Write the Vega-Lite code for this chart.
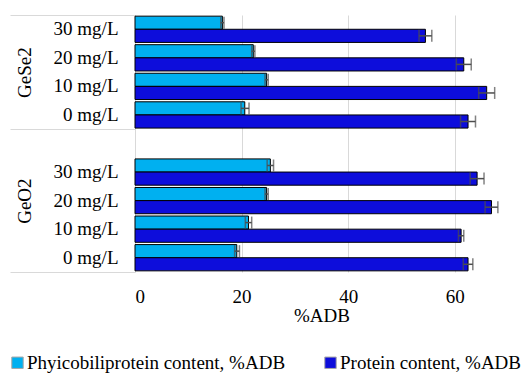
{
  "$schema": "https://vega.github.io/schema/vega-lite/v6.json",
  "width": 373,
  "height": 257,
  "autosize": {"type": "none"},
  "padding": {"left": 135, "top": 15, "right": 22, "bottom": 102},
  "background": "white",
  "config": {
    "view": {"stroke": null},
    "font": "Liberation Serif",
    "axis": {"labelFont": "Liberation Serif", "titleFont": "Liberation Serif", "labelColor": "#000", "titleColor": "#000"},
    "legend": {"labelFont": "Liberation Serif", "titleFont": "Liberation Serif"}
  },
  "datasets": {
    "bars": [
      {"key": "GeSe2|30 mg/L", "series": "Phyicobiliprotein content, %ADB", "value": 16.4, "lo": 16.1, "hi": 16.7},
      {"key": "GeSe2|30 mg/L", "series": "Protein content, %ADB", "value": 54.5, "lo": 53.3, "hi": 55.7},
      {"key": "GeSe2|20 mg/L", "series": "Phyicobiliprotein content, %ADB", "value": 22.2, "lo": 21.9, "hi": 22.5},
      {"key": "GeSe2|20 mg/L", "series": "Protein content, %ADB", "value": 61.7, "lo": 60.3, "hi": 63.1},
      {"key": "GeSe2|10 mg/L", "series": "Phyicobiliprotein content, %ADB", "value": 24.7, "lo": 24.4, "hi": 25.0},
      {"key": "GeSe2|10 mg/L", "series": "Protein content, %ADB", "value": 66.0, "lo": 64.5, "hi": 67.5},
      {"key": "GeSe2|0 mg/L", "series": "Phyicobiliprotein content, %ADB", "value": 20.6, "lo": 19.9, "hi": 21.4},
      {"key": "GeSe2|0 mg/L", "series": "Protein content, %ADB", "value": 62.5, "lo": 61.1, "hi": 63.9},
      {"key": "GeO2|30 mg/L", "series": "Phyicobiliprotein content, %ADB", "value": 25.4, "lo": 24.8, "hi": 26.0},
      {"key": "GeO2|30 mg/L", "series": "Protein content, %ADB", "value": 64.2, "lo": 62.9, "hi": 65.5},
      {"key": "GeO2|20 mg/L", "series": "Phyicobiliprotein content, %ADB", "value": 24.7, "lo": 24.4, "hi": 25.0},
      {"key": "GeO2|20 mg/L", "series": "Protein content, %ADB", "value": 66.9, "lo": 65.7, "hi": 68.1},
      {"key": "GeO2|10 mg/L", "series": "Phyicobiliprotein content, %ADB", "value": 21.3, "lo": 20.7, "hi": 21.9},
      {"key": "GeO2|10 mg/L", "series": "Protein content, %ADB", "value": 61.2, "lo": 60.7, "hi": 61.7},
      {"key": "GeO2|0 mg/L", "series": "Phyicobiliprotein content, %ADB", "value": 19.1, "lo": 18.7, "hi": 19.6},
      {"key": "GeO2|0 mg/L", "series": "Protein content, %ADB", "value": 62.5, "lo": 61.6, "hi": 63.4}
    ],
    "seps": [{"b": 0}, {"b": 4}, {"b": 9}],
    "groups": [{"g": "GeSe2", "m": 2}, {"g": "GeO2", "m": 6.5}]
  },
  "layer": [
    {
      "data": {"name": "bars"},
      "layer": [
        {
          "mark": {"type": "bar", "stroke": "#000", "strokeWidth": 1},
          "encoding": {
            "y": {
              "field": "key", "type": "nominal",
              "scale": {"domain": ["GeSe2|30 mg/L", "GeSe2|20 mg/L", "GeSe2|10 mg/L", "GeSe2|0 mg/L", "GeO2|", "GeO2|30 mg/L", "GeO2|20 mg/L", "GeO2|10 mg/L", "GeO2|0 mg/L"], "paddingInner": 0.08, "paddingOuter": 0.04},
              "axis": {"orient": "left", "labelExpr": "split(datum.value, '|')[1]", "ticks": false, "domain": false, "grid": false, "labelPadding": 17, "labelFontSize": 19, "title": null}
            },
            "yOffset": {"field": "series", "type": "nominal", "scale": {"domain": ["Phyicobiliprotein content, %ADB", "Protein content, %ADB"], "paddingInner": 0, "paddingOuter": 0}},
            "x": {
              "field": "value", "type": "quantitative",
              "scale": {"domain": [0, 70], "nice": false},
              "axis": {"values": [0, 20, 40, 60], "grid": true, "gridColor": "#d9d9d9", "domain": false, "ticks": false, "labelPadding": 15, "labelFontSize": 19, "labelFont": "Liberation Serif", "title": "%ADB", "titleFont": "Liberation Serif", "titleFontSize": 19, "titleFontWeight": "normal", "titlePadding": 0}
            },
            "color": {
              "field": "series", "type": "nominal",
              "scale": {"domain": ["Phyicobiliprotein content, %ADB", "Protein content, %ADB"], "range": ["#00B0F0", "#0D0DDB"]},
              "legend": {"orient": "none", "legendX": -127, "legendY": 338, "direction": "horizontal", "columns": 2, "columnPadding": 35, "title": null, "labelFontSize": 19, "labelFont": "Liberation Serif", "labelColor": "#000", "symbolType": "square", "symbolSize": 130, "symbolStrokeColor": "#a6a6a6", "symbolStrokeWidth": 1, "labelOffset": 0, "padding": 0, "labelLimit": 400}
            }
          }
        },
        {
          "mark": {"type": "rule", "color": "#4d4d4d", "strokeWidth": 1.5},
          "encoding": {
            "y": {"field": "key", "type": "nominal"},
            "yOffset": {"field": "series", "type": "nominal"},
            "x": {"field": "lo", "type": "quantitative"},
            "x2": {"field": "hi"}
          }
        },
        {
          "mark": {"type": "tick", "color": "#4d4d4d", "size": 12, "thickness": 1.5},
          "encoding": {
            "y": {"field": "key", "type": "nominal"},
            "yOffset": {"field": "series", "type": "nominal"},
            "x": {"field": "lo", "type": "quantitative"}
          }
        },
        {
          "mark": {"type": "tick", "color": "#4d4d4d", "size": 12, "thickness": 1.5},
          "encoding": {
            "y": {"field": "key", "type": "nominal"},
            "yOffset": {"field": "series", "type": "nominal"},
            "x": {"field": "hi", "type": "quantitative"}
          }
        }
      ]
    },
    {
      "data": {"name": "seps"},
      "mark": {"type": "point", "opacity": 0},
      "encoding": {
        "y": {
          "field": "b", "type": "quantitative",
          "scale": {"domain": [0, 9], "reverse": true, "nice": false, "zero": false},
          "axis": {"orient": "left", "values": [0, 4, 9], "tickSize": 125, "tickColor": "#d9d9d9", "labels": false, "domain": false, "grid": false, "title": null, "offset": 0}
        }
      }
    },
    {
      "data": {"name": "groups"},
      "mark": {"type": "point", "opacity": 0},
      "encoding": {
        "y": {
          "field": "m", "type": "quantitative",
          "scale": {"domain": [0, 9], "reverse": true, "nice": false, "zero": false},
          "axis": {"orient": "left", "values": [2, 6.5], "labelExpr": "datum.value == 2 ? 'GeSe2' : 'GeO2'", "labelAngle": -90, "ticks": false, "domain": false, "grid": false, "labelPadding": 101, "labelFontSize": 19, "title": null, "offset": 0}
        }
      }
    }
  ],
  "resolve": {"scale": {"y": "independent"}, "axis": {"y": "independent"}}
}
